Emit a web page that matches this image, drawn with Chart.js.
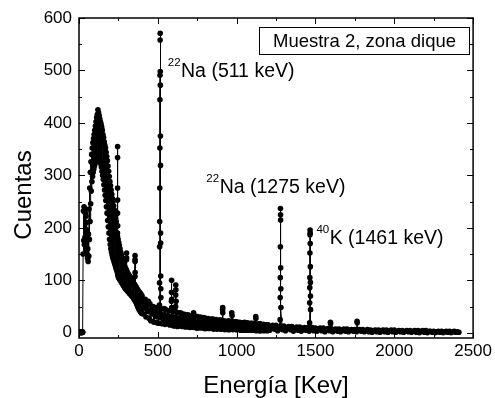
<!DOCTYPE html>
<html>
<head>
<meta charset="utf-8">
<script src="https://cdn.jsdelivr.net/npm/chart.js@4"></script>
<style>
  body { margin: 0; background: #fff; }
  canvas { display: block; }
</style>
</head>
<body>
<canvas id="espectro" width="495" height="398"></canvas>
<script>
// espectro gamma, muestra 2 (zona dique)
const ticksX = [0, 500, 1000, 1500, 2000, 2500];
const ticksY = [0, 100, 200, 300, 400, 500, 600];

// zona baja: canales de 2 keV desde 0 keV
const pasoBajo = 2;
const cuentasBajas = [
  1, 0, 2, 1, 0, 1, 2, 0, 1, 1,
  0, 2, 1, 150, 232, 176, 240, 168, 236, 182,
  228, 164, 222, 158, 210, 150, 196, 142, 160, 136,
  188, 146, 236, 178, 276, 212, 306, 246, 326, 270,
  340, 288, 352, 298, 362, 306, 370, 312, 378, 318,
  386, 322, 394, 326, 402, 330, 410, 334, 416, 336,
  425, 338, 420, 336, 414, 332, 408, 328, 402, 322,
  398, 316, 392, 308, 386, 300, 378, 292, 372, 282,
  364, 272, 358, 262, 352, 252, 344, 240, 336, 228,
  328, 214, 318, 202, 308, 190, 298, 178, 288, 168,
  280, 160, 272, 154, 264, 148, 256, 144, 250, 140,
  242, 136, 234, 132, 226, 128, 218, 124, 212, 120,
  190, 116, 184, 110, 178, 106, 172, 104, 166, 102,
  160, 100, 154, 98, 149, 96, 144, 94, 140, 92,
  136, 90, 132, 88, 128, 86, 125, 85, 122, 83,
  120, 82, 117, 80, 114, 79, 112, 78, 110, 76,
  108, 75, 106, 74, 104, 72, 102, 71, 100, 69,
  98, 68, 96, 66, 94, 64, 92, 62, 90, 60,
  88, 58, 86, 55, 84, 52, 82, 49, 80, 46,
  78, 44, 77, 42, 75, 40, 74, 38, 72, 37
];

// zona media: canales de 5 keV desde 400 keV
const inicioMedio = 400;
const pasoMedio = 5;
const cuentasMedias = [
  70, 36, 58, 47, 64, 30, 52, 41, 60, 27,
  55, 23, 44, 36, 50, 20, 40, 31, 48, 19,
  48, 18, 37, 29, 45, 17, 34, 24, 46, 16,
  44, 17, 33, 26, 42, 15, 31, 22, 43, 14,
  41, 13, 30, 22, 39, 12, 28, 19, 38, 13,
  37, 12, 27, 20, 35, 11, 25, 17, 34, 11,
  33, 10, 24, 18, 32, 10, 22, 15, 31, 9,
  31, 9, 22, 16, 30, 9, 20, 14, 29, 8,
  28, 8, 20, 15, 27, 8, 18, 13, 26, 8,
  26, 7, 19, 14, 25, 7, 17, 12, 24, 7,
  24, 7, 17, 12, 23, 6, 15, 11, 22, 6,
  23, 6, 16, 11, 22, 6, 14, 10, 21, 6,
  21, 6, 15, 10, 20, 5, 13, 9, 19, 5,
  20, 5, 14, 10, 19, 5, 12, 8, 18, 5,
  18, 5, 13, 9, 17, 4, 11, 8, 17, 4,
  17, 4, 12, 8, 16, 4, 10, 7, 15, 4
];

// zona alta: canales de 10 keV desde 1200 keV
const inicioAlto = 1200;
const pasoAlto = 10;
const cuentasAltas = [
  15, 5, 11, 14, 7, 14, 4, 10, 13, 6,
  13, 4, 9, 12, 6, 12, 3, 9, 11, 5,
  11, 3, 8, 10, 5, 10, 3, 7, 10, 4,
  9, 3, 7, 9, 4, 9, 2, 6, 8, 4,
  8, 2, 6, 7, 3, 7, 2, 5, 7, 3,
  7, 2, 5, 6, 3, 6, 2, 5, 6, 3,
  6, 2, 4, 6, 2, 5, 1, 4, 5, 2,
  5, 1, 4, 5, 2, 5, 1, 3, 5, 2,
  5, 1, 3, 4, 2, 4, 1, 3, 4, 2,
  4, 1, 3, 4, 1, 4, 0, 3, 4, 1,
  4, 0, 3, 3, 1, 3, 0, 2, 3, 1,
  3, 0, 2, 3, 1, 3, 0, 2, 3, 1,
  2, 1
];

// picos: energia (keV) y cuentas
const picosE = [
  244.2, 244.4, 244.6, 244.8, 245.0, 245.2, 245.4,                 // 238
  301.2, 301.4, 301.6, 301.8,                                      // 295
  355.2, 355.4, 355.6, 355.8, 356.0,                               // 352
  510.5, 511, 511.5, 512, 512.5, 513, 513.5, 514, 514.5, 515,
  515.5, 516, 516.5, 517, 517.5, 518, 518.5, 519, 519.5,           // 511
  586, 586.5, 587, 587.5, 588, 588.5,                              // 583
  613, 613.5, 614, 614.5, 616,                                     // 609
  727, 728,
  911, 911.5, 912,
  969, 971,
  1121, 1122,
  1276, 1276.5, 1277, 1277.5, 1278, 1278.5, 1279, 1279.5, 1280.5, 1281,   // 1275
  1463, 1463.5, 1464, 1464.5, 1465, 1465.5, 1466, 1466.5, 1467, 1467.5,
  1468, 1468.5, 1469,                                              // 1461
  1595, 1596,
  1764, 1765
];
const picosCuentas = [
  190, 228, 276, 334, 355, 253, 204,
  114, 139, 152, 143,
  107, 139, 147, 136, 115,
  53, 95, 164, 212, 276, 352, 444, 491, 558, 571,
  498, 472, 375, 319, 190, 171, 108, 84, 67,
  42, 60, 77, 100, 64, 48,
  50, 72, 91, 82, 60,
  38, 34,
  44, 48, 38,
  38, 33,
  31, 27,
  25, 67, 105, 164, 237, 225, 215, 124, 84, 48,
  19, 57, 86, 105, 152, 187, 196, 190, 170, 126,
  96, 70, 44,
  20, 17,
  22, 19
];

const puntos = [];
cuentasBajas.forEach((c, i) => puntos.push({ x: i * pasoBajo, y: c }));
cuentasMedias.forEach((c, i) => puntos.push({ x: inicioMedio + i * pasoMedio, y: c }));
cuentasAltas.forEach((c, i) => puntos.push({ x: inicioAlto + i * pasoAlto, y: c }));
picosE.forEach((e, i) => puntos.push({ x: e, y: picosCuentas[i] }));
puntos.sort((a, b) => a.x - b.x);

const fuente = "Arial, 'Liberation Sans', sans-serif";
Chart.defaults.font.family = fuente;
Chart.defaults.color = '#000';

const anotaciones = [
  { sup: '22', texto: 'Na (511 keV)', e: 563, c: 487 },
  { sup: '22', texto: 'Na (1275 keV)', e: 808, c: 267 },
  { sup: '40', texto: 'K (1461 keV)', e: 1506, c: 170 }
];

const marco = {
  id: 'marco',
  afterDraw(chart) {
    const { ctx, chartArea: a, scales: { x, y } } = chart;
    ctx.save();
    ctx.strokeStyle = '#000';
    ctx.fillStyle = '#000';

    // marcas hacia adentro, arriba/abajo y izquierda/derecha
    ctx.lineWidth = 1;
    ctx.beginPath();
    const marcaX = (v, largo) => {
      const px = Math.round(x.getPixelForValue(v)) + 0.5;
      ctx.moveTo(px, a.bottom); ctx.lineTo(px, a.bottom - largo);
      ctx.moveTo(px, a.top); ctx.lineTo(px, a.top + largo);
    };
    const marcaY = (v, largo) => {
      const py = Math.round(y.getPixelForValue(v)) + 0.5;
      ctx.moveTo(a.left, py); ctx.lineTo(a.left + largo, py);
      ctx.moveTo(a.right, py); ctx.lineTo(a.right - largo, py);
    };
    ticksX.forEach((v, i) => {
      marcaX(v, 6);
      if (i < ticksX.length - 1) marcaX((v + ticksX[i + 1]) / 2, 3);
    });
    ticksY.forEach((v, i) => {
      marcaY(v, 6);
      if (i < ticksY.length - 1) marcaY((v + ticksY[i + 1]) / 2, 3);
    });
    ctx.stroke();

    ctx.lineWidth = 1.5;
    ctx.strokeRect(a.left, a.top, a.right - a.left, a.bottom - a.top);

    // titulos de ejes
    ctx.font = '24px ' + fuente;
    ctx.textAlign = 'center';
    ctx.textBaseline = 'alphabetic';
    ctx.fillText('Energía [Kev]', (a.left + a.right) / 2, 393);
    ctx.save();
    ctx.translate(31, 195);
    ctx.rotate(-Math.PI / 2);
    ctx.fillText('Cuentas', 0, 0);
    ctx.restore();

    // etiquetas de picos con superindice
    ctx.textAlign = 'left';
    anotaciones.forEach(n => {
      const px = x.getPixelForValue(n.e);
      const py = y.getPixelForValue(n.c);
      ctx.font = '11.5px ' + fuente;
      ctx.fillText(n.sup, px, py - 11);
      const w = ctx.measureText(n.sup).width;
      ctx.font = '19.5px ' + fuente;
      ctx.fillText(n.texto, px + w + 0.5, py);
    });

    // recuadro de la muestra
    ctx.lineWidth = 1;
    ctx.strokeRect(259.5, 27.5, 210, 27);
    ctx.font = '18.5px ' + fuente;
    ctx.textAlign = 'center';
    ctx.fillText('Muestra 2, zona dique', 364.5, 47);
    ctx.restore();
  }
};

new Chart(document.getElementById('espectro'), {
  type: 'line',
  data: {
    datasets: [{
      data: puntos,
      borderColor: '#000',
      borderWidth: 1,
      pointRadius: 2.8,
      pointBackgroundColor: '#000',
      pointBorderWidth: 0,
      tension: 0,
      fill: false
    }]
  },
  options: {
    responsive: false,
    animation: false,
    layout: { padding: { top: 18, right: 21, left: 0, bottom: 0 } },
    plugins: { legend: { display: false }, tooltip: { enabled: false } },
    scales: {
      x: {
        type: 'linear',
        min: 0,
        max: 2500,
        afterFit: s => { s.height = 60; },
        afterBuildTicks: s => { s.ticks = ticksX.map(v => ({ value: v })); },
        grid: { display: false, drawTicks: false },
        border: { display: false },
        ticks: { padding: 3, autoSkip: false, maxRotation: 0, font: { size: 17 }, callback: v => String(v) }
      },
      y: {
        min: -10,
        max: 600,
        afterFit: s => { s.width = 79; },
        afterBuildTicks: s => { s.ticks = ticksY.map(v => ({ value: v })); },
        grid: { display: false, drawTicks: false },
        border: { display: false },
        ticks: { padding: 7, font: { size: 17 }, callback: v => String(v) }
      }
    }
  },
  plugins: [marco]
});
</script>
</body>
</html>
